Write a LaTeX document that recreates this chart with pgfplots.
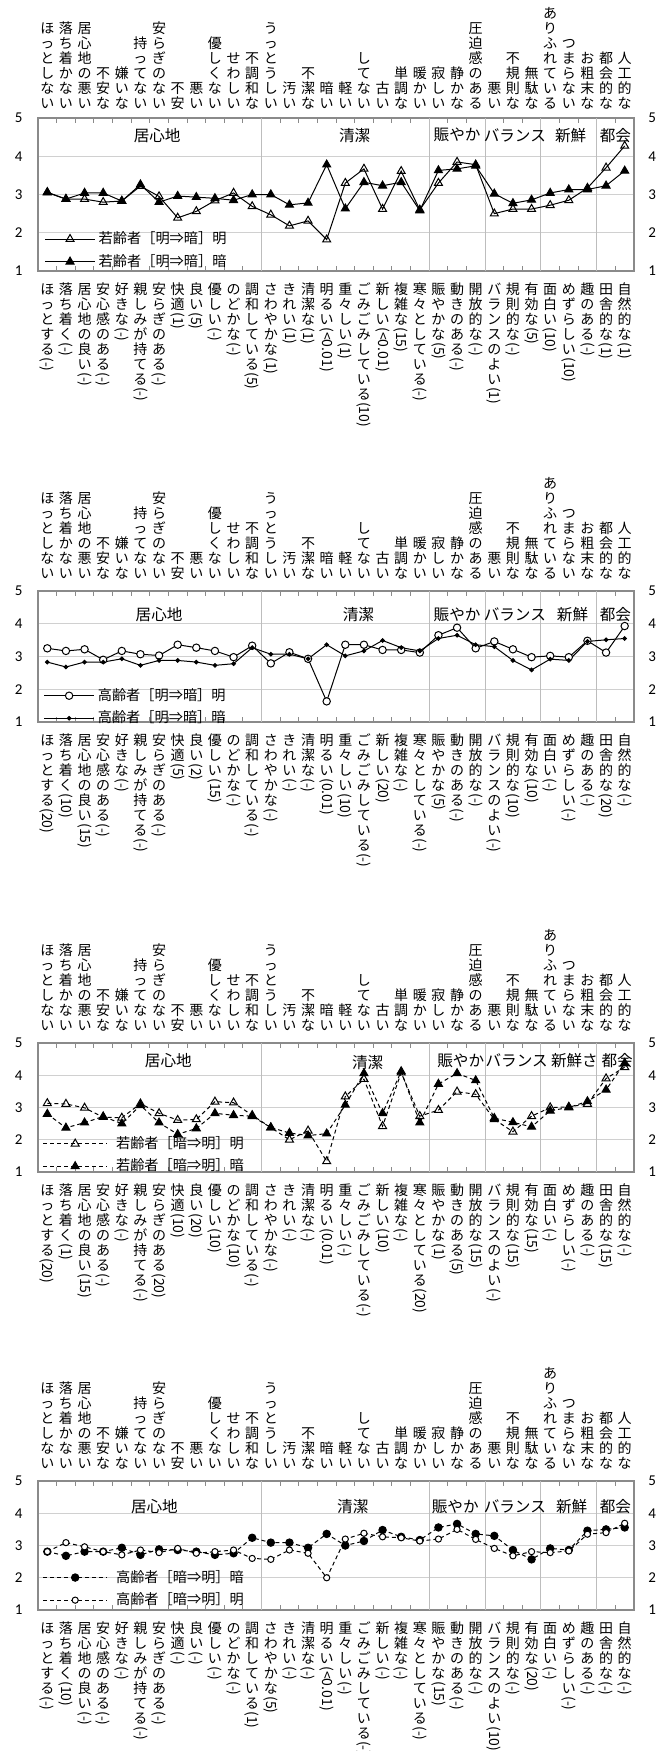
\documentclass[border=0pt]{standalone}
\usepackage{fontspec}
\setmainfont{Noto Sans CJK JP}
\newfontfamily\numfont{Carlito}
\usepackage{graphicx}
\usepackage{pgfplots}
\pgfplotsset{compat=1.18}
\definecolor{boxgray}{HTML}{8A8A8A}
\definecolor{gridgray}{HTML}{D0D0D0}
\definecolor{sepgray}{HTML}{BDBDBD}
\newcommand\lblfont{\fontsize{7}{7.5}\selectfont}
\newcommand\grpfont{\fontsize{7.8}{8.5}\selectfont}
\newcommand\legfont{\fontsize{7.1}{8}\selectfont}
\newcommand\vtchar[1]{\hbox to 1em{\hss\vrule width 0pt height 0.87em depth 0.2em\relax#1\hss}}
\ExplSyntaxOn
\NewDocumentCommand\vt{m}{\vbox{\offinterlineskip\tl_map_inline:nn{#1}{\vtchar{##1}}}}
\NewDocumentCommand\vb{mm}{\vbox{\offinterlineskip\tl_map_inline:nn{#1}{\vtchar{##1}}\hbox_to_wd:nn{1em}{\hss\rotatebox{-90}{#2}\hss}}}
\ExplSyntaxOff
\pgfplotsset{
  base/.style={scale only axis, width=298pt, xmin=0, xmax=32, ymin=1, ymax=5,
    xtick={0.5,1.5,...,31.5}, minor x tick num=1, ytick={1,2,3,4,5},
    yticklabels={1,2,3,4,5}, tick align=inside,
    major tick length=0pt, minor tick length=2.5pt,
    minor tick style={boxgray, line width=0.5pt}, clip=false},
  mainax/.style={base, axis line style={boxgray, line width=0.6pt},
    ymajorgrids, major grid style={gridgray, line width=0.5pt},
    yticklabel style={font=\numfont\fontsize{7.5}{9}\selectfont, inner sep=0pt, xshift=-7.5pt},
    xticklabel style={font=\lblfont, inner sep=0pt}, xticklabel shift=5.5pt,
    legend cell align=left,
    legend style={draw=none, fill=none, font=\legfont, anchor=north west, inner sep=0pt, row sep=0pt,
      nodes={inner xsep=1.6pt, inner ysep=1.9pt}}},
  topax/.style={base, axis line style={draw=none}, minor tick length=0pt,
    xticklabel pos=upper, yticklabel pos=right,
    yticklabel style={font=\numfont\fontsize{7.5}{9}\selectfont, inner sep=0pt, xshift=7pt},
    xticklabel style={font=\lblfont, inner sep=0pt},
    xticklabels={\vt{ほっとしない},\vt{落ち着かない},\vt{居心地の悪い},\vt{不安な},\vt{嫌いな},\vt{持ってない},\vt{安らぎのない},\vt{不安},\vt{悪い},\vt{優しくない},\vt{せわしい},\vt{不調和な},\vt{うっとうしい},\vt{汚い},\vt{不潔な},\vt{暗い},\vt{軽い},\vt{してない},\vt{古い},\vt{単調な},\vt{暖かい},\vt{寂しい},\vt{静かな},\vt{圧迫感のある},\vt{悪い},\vt{不規則な},\vt{無駄な},\vt{ありふれている},\vt{つまらない},\vt{お粗末な},\vt{都会的な},\vt{人工的な}}},
  shortleg/.style={legend image code/.code={\draw[mark repeat=2,mark phase=2,##1] plot coordinates {(0pt,0pt) (12.5pt,0pt) (25pt,0pt)};}},
  longleg/.style={legend image code/.code={\draw[mark repeat=2,mark phase=2,##1] plot coordinates {(0pt,0pt) (16pt,0pt) (32pt,0pt)};},
    legend style={/tikz/every odd column/.append style={column sep=2.6pt}}},
  dl/.style={black, line width=0.5pt},
}
\newcommand\seps{%
  \draw[sepgray, line width=0.5pt] (axis cs:12,1) -- (axis cs:12,5);
  \draw[sepgray, line width=0.5pt] (axis cs:21,1) -- (axis cs:21,5);
  \draw[sepgray, line width=0.5pt] (axis cs:24,1) -- (axis cs:24,5);
  \draw[sepgray, line width=0.5pt] (axis cs:27,1) -- (axis cs:27,5);
  \draw[sepgray, line width=0.5pt] (axis cs:30,1) -- (axis cs:30,5);}
\begin{document}
\begin{tikzpicture}
\useasboundingbox (0,0) rectangle (334.5pt,-875.5pt);
% ---------------- Panel 1
\begin{axis}[mainax, shortleg, at={(19pt,-135.5pt)}, anchor=south west, height=76.5pt,
  legend style={at={(axis cs:0.33,2.14)}},
  xticklabels={\vb{ほっとする}{(-)},\vb{落ち着く}{(-)},\vb{居心地の良い}{(-)},\vb{安心感のある}{(-)},\vb{好きな}{(-)},\vb{親しみが持てる}{(-)},\vb{安らぎのある}{(-)},\vb{快適}{(1)},\vb{良い}{(5)},\vb{優しい}{(-)},\vb{のどかな}{(-)},\vb{調和している}{(5)},\vb{さわやかな}{(1)},\vb{きれい}{(1)},\vb{清潔な}{(1)},\vb{明るい}{(<0.01)},\vb{重々しい}{(1)},\vb{ごみごみしている}{(10)},\vb{新しい}{(<0.01)},\vb{複雑な}{(15)},\vb{寒々としている}{(-)},\vb{賑やかな}{(5)},\vb{動きのある}{(-)},\vb{開放的な}{(-)},\vb{バランスのよい}{(1)},\vb{規則的な}{(-)},\vb{有効な}{(5)},\vb{面白い}{(10)},\vb{めずらしい}{(10)},\vb{趣のある}{(-)},\vb{田舎的な}{(1)},\vb{自然的な}{(1)}}]
\seps
\addplot[dl, mark=triangle, mark size=2.3pt, mark options={fill=white}] coordinates {
(0.5,3.05)(1.5,2.88)(2.5,2.88)(3.5,2.80)(4.5,2.83)(5.5,3.22)(6.5,2.95)(7.5,2.39)(8.5,2.56)(9.5,2.84)(10.5,3.04)(11.5,2.69)(12.5,2.47)(13.5,2.18)(14.5,2.31)(15.5,1.82)
(16.5,3.30)(17.5,3.67)(18.5,2.62)(19.5,3.61)(20.5,2.60)(21.5,3.30)(22.5,3.85)(23.5,3.78)(24.5,2.50)(25.5,2.62)(26.5,2.62)(27.5,2.72)(28.5,2.85)(29.5,3.17)(30.5,3.70)(31.5,4.27)};
\addlegendentry{若齢者［明⇒暗］明}
\addplot[dl, mark=triangle*, mark size=2.3pt, mark options={fill=black}] coordinates {
(0.5,3.06)(1.5,2.88)(2.5,3.04)(3.5,3.04)(4.5,2.83)(5.5,3.26)(6.5,2.80)(7.5,2.96)(8.5,2.93)(9.5,2.90)(10.5,2.85)(11.5,3.00)(12.5,3.00)(13.5,2.73)(14.5,2.78)(15.5,3.78)
(16.5,2.63)(17.5,3.32)(18.5,3.23)(19.5,3.32)(20.5,2.58)(21.5,3.63)(22.5,3.67)(23.5,3.75)(24.5,3.02)(25.5,2.77)(26.5,2.86)(27.5,3.04)(28.5,3.13)(29.5,3.13)(30.5,3.23)(31.5,3.62)};
\addlegendentry{若齢者［明⇒暗］暗}
\node[font=\grpfont] at (axis cs:6.4,4.55) {居心地};
\node[font=\grpfont] at (axis cs:17.0,4.55) {清潔};
\node[font=\grpfont] at (axis cs:22.5,4.55) {賑やか};
\node[font=\grpfont] at (axis cs:25.6,4.55) {バランス};
\node[font=\grpfont] at (axis cs:28.6,4.55) {新鮮};
\node[font=\grpfont] at (axis cs:31.0,4.55) {都会};
\end{axis}
\begin{axis}[topax, at={(19pt,-135.5pt)}, anchor=south west, height=76.5pt, xticklabel shift=3pt]
\end{axis}
% ---------------- Panel 2
\begin{axis}[mainax, shortleg, at={(19pt,-361pt)}, anchor=south west, height=65.5pt,
  legend style={at={(axis cs:0.28,2.16)}},
  xticklabels={\vb{ほっとする}{(20)},\vb{落ち着く}{(10)},\vb{居心地の良い}{(15)},\vb{安心感のある}{(-)},\vb{好きな}{(-)},\vb{親しみが持てる}{(-)},\vb{安らぎのある}{(-)},\vb{快適}{(5)},\vb{良い}{(2)},\vb{優しい}{(15)},\vb{のどかな}{(-)},\vb{調和している}{(-)},\vb{さわやかな}{(-)},\vb{きれい}{(-)},\vb{清潔な}{(-)},\vb{明るい}{(0.01)},\vb{重々しい}{(10)},\vb{ごみごみしている}{(-)},\vb{新しい}{(20)},\vb{複雑な}{(-)},\vb{寒々としている}{(-)},\vb{賑やかな}{(5)},\vb{動きのある}{(-)},\vb{開放的な}{(-)},\vb{バランスのよい}{(-)},\vb{規則的な}{(10)},\vb{有効な}{(10)},\vb{面白い}{(-)},\vb{めずらしい}{(-)},\vb{趣のある}{(-)},\vb{田舎的な}{(20)},\vb{自然的な}{(-)}}]
\seps
\addplot[dl, mark=*, mark size=1.85pt, mark options={fill=white}] coordinates {
(0.5,3.25)(1.5,3.17)(2.5,3.22)(3.5,2.90)(4.5,3.17)(5.5,3.07)(6.5,3.03)(7.5,3.36)(8.5,3.27)(9.5,3.17)(10.5,2.98)(11.5,3.33)(12.5,2.79)(13.5,3.13)(14.5,2.93)(15.5,1.63)
(16.5,3.36)(17.5,3.36)(18.5,3.20)(19.5,3.20)(20.5,3.12)(21.5,3.65)(22.5,3.88)(23.5,3.25)(24.5,3.46)(25.5,3.22)(26.5,2.98)(27.5,3.02)(28.5,2.98)(29.5,3.48)(30.5,3.12)(31.5,3.93)};
\addlegendentry{高齢者［明⇒暗］明}
\addplot[dl, mark=*, mark size=0.9pt, mark options={fill=black}] coordinates {
(0.5,2.83)(1.5,2.68)(2.5,2.83)(3.5,2.83)(4.5,2.93)(5.5,2.73)(6.5,2.88)(7.5,2.88)(8.5,2.83)(9.5,2.73)(10.5,2.78)(11.5,3.27)(12.5,3.07)(13.5,3.07)(14.5,2.93)(15.5,3.36)
(16.5,3.02)(17.5,3.17)(18.5,3.49)(19.5,3.27)(20.5,3.17)(21.5,3.55)(22.5,3.65)(23.5,3.36)(24.5,3.30)(25.5,2.88)(26.5,2.59)(27.5,2.92)(28.5,2.88)(29.5,3.46)(30.5,3.51)(31.5,3.55)};
\addlegendentry{高齢者［明⇒暗］暗}
\node[font=\grpfont] at (axis cs:6.5,4.27) {居心地};
\node[font=\grpfont] at (axis cs:17.2,4.27) {清潔};
\node[font=\grpfont] at (axis cs:22.5,4.27) {賑やか};
\node[font=\grpfont] at (axis cs:25.6,4.27) {バランス};
\node[font=\grpfont] at (axis cs:28.7,4.27) {新鮮};
\node[font=\grpfont] at (axis cs:31.0,4.27) {都会};
\end{axis}
\begin{axis}[topax, at={(19pt,-361pt)}, anchor=south west, height=65.5pt, xticklabel shift=4.5pt]
\end{axis}
% ---------------- Panel 3
\begin{axis}[mainax, longleg, at={(19pt,-586pt)}, anchor=south west, height=64.5pt,
  legend style={at={(axis cs:0.23,2.24)}},
  xticklabels={\vb{ほっとする}{(20)},\vb{落ち着く}{(1)},\vb{居心地の良い}{(15)},\vb{安心感のある}{(-)},\vb{好きな}{(-)},\vb{親しみが持てる}{(-)},\vb{安らぎのある}{(20)},\vb{快適}{(10)},\vb{良い}{(20)},\vb{優しい}{(10)},\vb{のどかな}{(10)},\vb{調和している}{(-)},\vb{さわやかな}{(-)},\vb{きれい}{(-)},\vb{清潔な}{(-)},\vb{明るい}{(0.01)},\vb{重々しい}{(-)},\vb{ごみごみしている}{(-)},\vb{新しい}{(10)},\vb{複雑な}{(-)},\vb{寒々としている}{(20)},\vb{賑やかな}{(1)},\vb{動きのある}{(5)},\vb{開放的な}{(15)},\vb{バランスのよい}{(-)},\vb{規則的な}{(15)},\vb{有効な}{(15)},\vb{面白い}{(-)},\vb{めずらしい}{(-)},\vb{趣のある}{(-)},\vb{田舎的な}{(15)},\vb{自然的な}{(-)}}]
\seps
\addplot[dl, dash pattern=on 2pt off 1.5pt, mark=triangle, mark size=2.3pt, mark options={fill=white, solid}] coordinates {
(0.5,3.13)(1.5,3.11)(2.5,2.99)(3.5,2.70)(4.5,2.68)(5.5,3.12)(6.5,2.82)(7.5,2.61)(8.5,2.63)(9.5,3.18)(10.5,3.15)(11.5,2.76)(12.5,2.38)(13.5,2.00)(14.5,2.28)(15.5,1.33)
(16.5,3.34)(17.5,3.88)(18.5,2.42)(19.5,4.08)(20.5,2.73)(21.5,2.92)(22.5,3.49)(23.5,3.41)(24.5,2.63)(25.5,2.25)(26.5,2.73)(27.5,3.00)(28.5,3.02)(29.5,3.11)(30.5,3.90)(31.5,4.25)};
\addlegendentry{若齢者［暗⇒明］明}
\addplot[dl, dash pattern=on 2pt off 1.5pt, mark=triangle*, mark size=2.3pt, mark options={fill=black, solid}] coordinates {
(0.5,2.80)(1.5,2.37)(2.5,2.53)(3.5,2.72)(4.5,2.50)(5.5,3.07)(6.5,2.53)(7.5,2.17)(8.5,2.35)(9.5,2.82)(10.5,2.76)(11.5,2.73)(12.5,2.38)(13.5,2.21)(14.5,2.13)(15.5,2.19)
(16.5,3.08)(17.5,4.06)(18.5,2.82)(19.5,4.12)(20.5,2.53)(21.5,3.73)(22.5,4.06)(23.5,3.84)(24.5,2.67)(25.5,2.54)(26.5,2.40)(27.5,2.90)(28.5,3.00)(29.5,3.19)(30.5,3.55)(31.5,4.38)};
\addlegendentry{若齢者［暗⇒明］暗}
\node[font=\grpfont] at (axis cs:7.0,4.45) {居心地};
\node[font=\grpfont] at (axis cs:17.7,4.38) {清潔};
\node[font=\grpfont] at (axis cs:22.7,4.45) {賑やか};
\node[font=\grpfont] at (axis cs:25.7,4.45) {バランス};
\node[font=\grpfont] at (axis cs:28.8,4.45) {新鮮さ};
\node[font=\grpfont] at (axis cs:31.1,4.45) {都会};
\end{axis}
\begin{axis}[topax, at={(19pt,-586pt)}, anchor=south west, height=64.5pt, xticklabel shift=4.5pt]
\end{axis}
% ---------------- Panel 4
\begin{axis}[mainax, longleg, at={(19pt,-805pt)}, anchor=south west, height=64.5pt,
  legend style={at={(axis cs:0.23,2.37)}},
  xticklabels={\vb{ほっとする}{(-)},\vb{落ち着く}{(10)},\vb{居心地の良い}{(-)},\vb{安心感のある}{(-)},\vb{好きな}{(-)},\vb{親しみが持てる}{(-)},\vb{安らぎのある}{(-)},\vb{快適}{(-)},\vb{良い}{(-)},\vb{優しい}{(-)},\vb{のどかな}{(-)},\vb{調和している}{(1)},\vb{さわやかな}{(5)},\vb{きれい}{(-)},\vb{清潔な}{(-)},\vb{明るい}{(<0.01)},\vb{重々しい}{(-)},\vb{ごみごみしている}{(-)},\vb{新しい}{(-)},\vb{複雑な}{(-)},\vb{寒々としている}{(-)},\vb{賑やかな}{(15)},\vb{動きのある}{(-)},\vb{開放的な}{(-)},\vb{バランスのよい}{(10)},\vb{規則的な}{(-)},\vb{有効な}{(20)},\vb{面白い}{(-)},\vb{めずらしい}{(-)},\vb{趣のある}{(-)},\vb{田舎的な}{(-)},\vb{自然的な}{(-)}}]
\seps
\addplot[dl, dash pattern=on 2pt off 1.5pt, mark=*, mark size=1.85pt, mark options={fill=black, solid}] coordinates {
(0.5,2.81)(1.5,2.68)(2.5,2.81)(3.5,2.81)(4.5,2.93)(5.5,2.71)(6.5,2.88)(7.5,2.86)(8.5,2.81)(9.5,2.71)(10.5,2.76)(11.5,3.24)(12.5,3.09)(13.5,3.09)(14.5,2.93)(15.5,3.36)
(16.5,3.00)(17.5,3.14)(18.5,3.48)(19.5,3.27)(20.5,3.17)(21.5,3.56)(22.5,3.67)(23.5,3.36)(24.5,3.30)(25.5,2.86)(26.5,2.57)(27.5,2.91)(28.5,2.86)(29.5,3.46)(30.5,3.50)(31.5,3.56)};
\addlegendentry{高齢者［暗⇒明］暗}
\addplot[dl, dash pattern=on 2pt off 1.5pt, mark=*, mark size=1.55pt, mark options={fill=white, solid}] coordinates {
(0.5,2.81)(1.5,3.09)(2.5,2.96)(3.5,2.81)(4.5,2.71)(5.5,2.86)(6.5,2.78)(7.5,2.91)(8.5,2.76)(9.5,2.81)(10.5,2.86)(11.5,2.60)(12.5,2.57)(13.5,2.86)(14.5,2.76)(15.5,2.00)
(16.5,3.20)(17.5,3.38)(18.5,3.27)(19.5,3.24)(20.5,3.14)(21.5,3.20)(22.5,3.50)(23.5,3.19)(24.5,2.91)(25.5,2.68)(26.5,2.81)(27.5,2.78)(28.5,2.83)(29.5,3.35)(30.5,3.40)(31.5,3.69)};
\addlegendentry{高齢者［暗⇒明］明}
\node[font=\grpfont] at (axis cs:6.25,4.2) {居心地};
\node[font=\grpfont] at (axis cs:16.9,4.2) {清潔};
\node[font=\grpfont] at (axis cs:22.4,4.2) {賑やか};
\node[font=\grpfont] at (axis cs:25.6,4.2) {バランス};
\node[font=\grpfont] at (axis cs:28.65,4.2) {新鮮};
\node[font=\grpfont] at (axis cs:31.0,4.2) {都会};
\end{axis}
\begin{axis}[topax, at={(19pt,-805pt)}, anchor=south west, height=64.5pt, xticklabel shift=4.5pt]
\end{axis}
\end{tikzpicture}
\end{document}
